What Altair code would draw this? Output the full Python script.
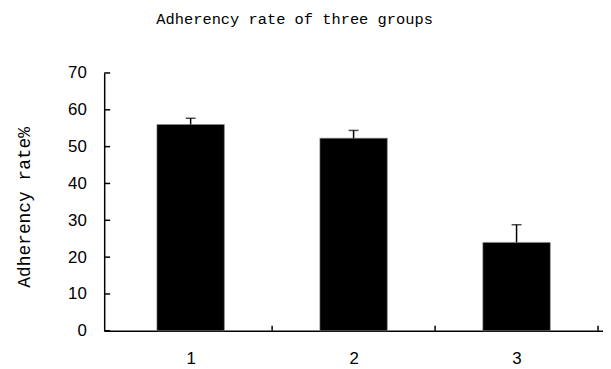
import altair as alt
import pandas as pd

groups = [1, 2, 3]
means = [56.0, 52.3, 24.0]
errs = [1.7, 2.1, 4.8]
y_ticks = [0, 10, 20, 30, 40, 50, 60, 70]
title_text = "Adherency rate of three groups"
y_title = "Adherency rate%"

df = pd.DataFrame({"group": groups, "mean": means, "err": errs})
df["upper"] = df["mean"] + df["err"]

W, H = 503, 260

xscale = alt.Scale(domain=[0.5, 3.5], nice=False, zero=False)
yscale = alt.Scale(domain=[0, 70], nice=False)

x_axis = alt.Axis(values=groups, format="d", title=None, ticks=False, grid=False,
                  labelPadding=20, labelFontSize=17, labelFont="Liberation Sans",
                  labelColor="black", domainColor="black", domainWidth=1.5,
                  labelOverlap=False)
y_axis = alt.Axis(values=y_ticks, format="d", title=y_title, ticks=False, grid=False,
                  labelPadding=18, labelFontSize=17, labelFont="Liberation Sans",
                  labelColor="black", domainColor="black", domainWidth=1.5,
                  labelOverlap=False,
                  titleFont="Liberation Mono", titleFontSize=18, titleFontWeight="normal",
                  titleColor="black", titleAngle=-90, titleAlign="center",
                  titleBaseline="alphabetic", titleX=-75, titleY=135)

base = alt.Chart(df)

bars = base.mark_bar(size=68, color="black", stroke="#888", strokeWidth=0.6).encode(
    x=alt.X("group:Q", scale=xscale, axis=x_axis),
    y=alt.Y("mean:Q", scale=yscale, axis=y_axis),
)

err_rule = base.mark_rule(color="black", strokeWidth=1.5).encode(
    x=alt.X("group:Q", scale=xscale, axis=x_axis),
    y=alt.Y("mean:Q", scale=yscale, axis=y_axis),
    y2="upper:Q",
)

cap = base.mark_tick(orient="horizontal", size=10, thickness=1.5, color="black").encode(
    x=alt.X("group:Q", scale=xscale, axis=x_axis),
    y=alt.Y("upper:Q", scale=yscale, axis=y_axis),
)

ytick = alt.Chart(pd.DataFrame({"mean": y_ticks})).mark_rule(color="black", strokeWidth=1.5).encode(
    y=alt.Y("mean:Q", scale=yscale, axis=y_axis),
    x=alt.value(0),
    x2=alt.value(6),
)

xtick = alt.Chart(pd.DataFrame({"group": [g + 0.5 for g in groups]})).mark_rule(color="black", strokeWidth=1.5).encode(
    x=alt.X("group:Q", scale=xscale, axis=x_axis),
    y=alt.value(H),
    y2=alt.value(H - 5),
)

chart = alt.layer(bars, err_rule, cap, ytick, xtick).properties(
    width=W,
    height=H,
    background="white",
    title=alt.TitleParams(title_text, font="Liberation Mono", fontSize=15.5, fontWeight="normal",
                          color="black", anchor="middle", dx=-59.5, offset=25,
                          baseline="alphabetic"),
    autosize=alt.AutoSizeParams(type="none"),
    padding={"left": 97, "top": 64, "right": 0, "bottom": 36},
).configure_view(strokeWidth=0, stroke="transparent")

chart.save("out.html", embed_options={"renderer": "svg", "actions": False})
